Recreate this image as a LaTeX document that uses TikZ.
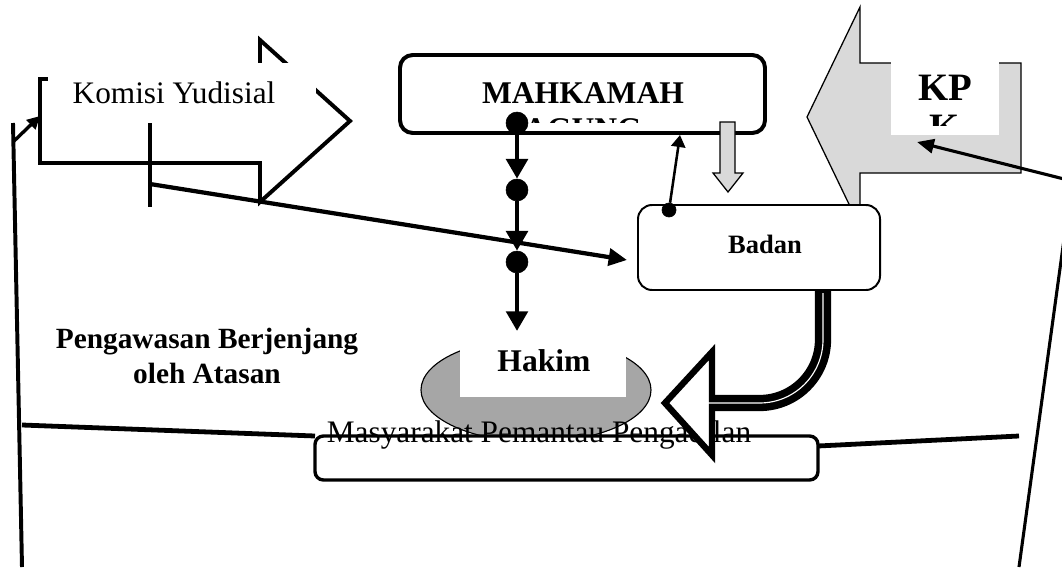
\documentclass[tikz,border=0pt]{standalone}
\usepackage{fontspec}
\setmainfont{Liberation Serif}
\usetikzlibrary{arrows.meta}

\tikzstyle{outline}=[draw=black,line width=2.8pt,fill=white]
\tikzstyle{shade}=[draw=black,line width=0.9pt,fill=black!15]
\tikzstyle{dots}=[draw=black,fill=black,circle,inner sep=0pt]
\tikzstyle{plain}=[inner sep=0pt,anchor=base,font=\fontsize{22.2}{26}\selectfont]
\tikzstyle{heavy}=[plain,font=\fontsize{22.4}{26}\selectfont\bfseries]
\tikzstyle{chain}=[line width=3.5pt,-{Triangle[length=14pt,width=15pt]}]

\begin{document}
\begin{tikzpicture}[x=0.709pt,y=-0.709pt]
   \useasboundingbox (0,0) rectangle (1062,567);

   % KPK block arrow
   \filldraw[shade] (1021,63) coordinate(kpkr) -- (860,63) -- (860,7)
-- (807,117) coordinate(kpktip) -- (860,227) -- (860,173) -- (1021,173) -- cycle;
   \fill[white] (891,58) rectangle (999,135);
   \node[heavy,font=\fontsize{27.5}{31}\selectfont\bfseries] (kpk) at (945,100) {KP};
   \begin{scope}
      \clip (891,58) rectangle (999,125);
      \node[heavy,font=\fontsize{27.5}{31}\selectfont\bfseries] (kpkb) at (945,140) {K};
   \end{scope}

   % Badan
   \draw[line width=1.4pt,rounded corners=10pt,fill=white] (638,205) coordinate(bdtl)
rectangle (880,290) coordinate(bdbr);
   \node[heavy,font=\fontsize{18.8}{22}\selectfont\bfseries] (badan) at (765,253) {Badan};

   % Komisi Yudisial block arrow
   \filldraw[outline] (40,79) coordinate(kytl) -- (260,79) -- (260,40) -- (350,121) coordinate(kytip)
-- (260,202) -- (260,163) -- (40,163) coordinate(kybl) -- cycle;
   \fill[white] (48,63) rectangle (316,118);
   \node[plain] (komisi) at (174,103) {Komisi Yudisial};

   % Mahkamah Agung
   \draw[outline,rounded corners=9pt] (400,55) rectangle (765,133);
   \node[heavy] (mahkamah) at (583,103) {MAHKAMAH};
   \begin{scope}
      \clip (404,59) rectangle (761,122);
      \node[heavy] (agung) at (583,139) {AGUNG};
   \end{scope}

   % grey arrow into Badan
   \filldraw[shade] (720,122) -- (735,122) -- (735,173) -- (743,173) -- (728,192) coordinate(gtip)
-- (713,173) -- (720,173) -- cycle;

   % chain down to Hakim
   \node[dots,minimum size=15.6pt] (d1) at (517,123) {};
   \node[dots,minimum size=15.6pt] (d2) at (517,190) {};
   \node[dots,minimum size=15.6pt] (d3) at (517,262) {};
   \coordinate (hkmtop) at (517,331);
   \draw[chain] (d1) -- (d2);
   \draw[chain] (d2) -- (d3);
   \draw[chain] (d3) -- (hkmtop);

   % Badan to Mahkamah
   \node[dots,minimum size=10pt] (b1) at (669,210) {};
   \coordinate (mabot) at (680,135);
   \draw[line width=1.8pt,-{Triangle[length=8.5pt,width=10pt]}] (b1) -- (mabot);

   % Hakim
   \filldraw[fill=black!35,draw=black,line width=0.8pt] (536,390) ellipse (115 and 52);
   \fill[white] (460,335) rectangle (626,397);
   \node[heavy] (hakim) at (544,371) {Hakim};

   % Masyarakat Pemantau Pengadilan
   \draw[line width=2.4pt,rounded corners=6pt,fill=white] (315,436) coordinate(mptl)
rectangle (818,480) coordinate(mpbr);
   \node[plain] (masyarakat) at (539,442) {Masyarakat Pemantau Pengadilan};
   \coordinate (mpr) at (818,446);
   \coordinate (hl) at (22,425);
   \coordinate (hr) at (1019,436);
   \draw[line width=3.4pt] (hl) -- (mptl);
   \draw[line width=3.4pt] (mpr) -- (hr);

   % Pengadilan arrow
   \filldraw[fill=white,draw=black,line width=4.5pt] (712,352) -- (665,403) coordinate(pgtip)
-- (712,455) -- cycle;
   \draw[line width=11.5pt,rounded corners=45pt] (823,290) coordinate(pgtail) -- (823,403) -- (710,403);
   \draw[white,line width=0.8pt,rounded corners=45pt] (823,293) -- (823,403) -- (706,403);

   % Komisi Yudisial to Badan
   \coordinate (bartop) at (150,123);
   \coordinate (barbot) at (150,207);
   \coordinate (kyfoot) at (150,184);
   \coordinate (bdin) at (627,260);
   \draw[line width=3pt] (bartop) -- (barbot);
   \draw[line width=3pt,-{Triangle[length=13pt,width=12pt]}] (kyfoot) -- (bdin);

   % side lines
   \coordinate (lbot) at (22,567);
   \coordinate (ltop) at (13,123);
   \coordinate (lknee) at (13,142);
   \coordinate (kyin) at (40,116);
   \draw[line width=2.8pt] (lbot) -- (ltop);
   \draw[line width=2.4pt,-{Triangle[length=9pt,width=9pt]}] (lknee) -- (kyin);
   \coordinate (rbot) at (1019,567);
   \coordinate (rknee) at (1072,181);
   \coordinate (kpkin) at (917,142);
   \draw[line width=2.2pt,-{Triangle[length=12pt,width=10pt]}] (rbot) -- (rknee) -- (kpkin);

   % Pengawasan Berjenjang
   \node[inner sep=0pt,anchor=north,align=center,font=\fontsize{20.8}{24.8}\selectfont\bfseries]
(atasan) at (207,328) {Pengawasan Berjenjang\\oleh Atasan};

\end{tikzpicture}
\end{document}
